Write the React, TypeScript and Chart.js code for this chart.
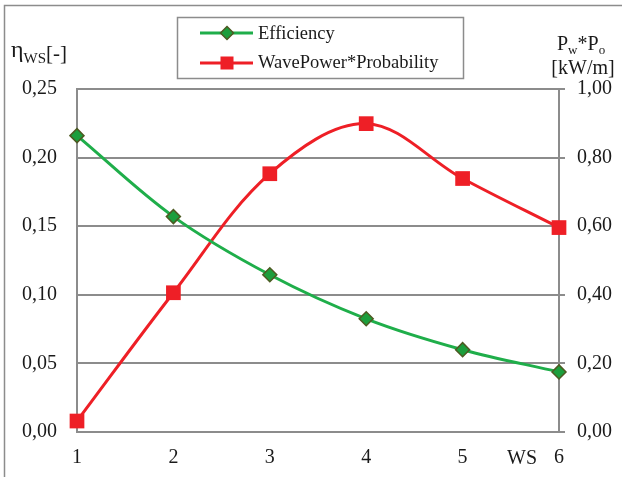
import React, { useEffect, useRef } from "react";
import { Chart, registerables } from "chart.js";

Chart.register(...registerables);

const wsValues = [1, 2, 3, 4, 5, 6];
const efficiency = [0.216, 0.157, 0.1146, 0.0825, 0.060, 0.0438];
const wavePowerProb = [0.032, 0.406, 0.753, 0.899, 0.739, 0.596];
const leftTicksMax = 0.25;
const rightTicksMax = 1.0;
const seriesNames = ["Efficiency", "WavePower*Probability"];

const GREEN = "#1fae4a";
const GREEN_FILL = "#1c9e3c";
const GREEN_EDGE = "#4d5a22";
const RED = "#ee1f26";
const GREY = "#8c8c8c";
const TEXT = "#1a1a1a";
const FONT = "'Liberation Serif', 'Times New Roman', serif";

const decorPlugin = {
  id: "decor",
  beforeDraw(chart: any) {
    const ctx = chart.ctx;
    ctx.save();
    ctx.fillStyle = "#ffffff";
    ctx.fillRect(0, 0, chart.width, chart.height);
    ctx.strokeStyle = GREY;
    ctx.lineWidth = 1.5;
    ctx.beginPath();
    ctx.moveTo(4.5, chart.height + 10);
    ctx.lineTo(4.5, 5.5);
    ctx.lineTo(chart.width + 10, 5.5);
    ctx.stroke();
    ctx.restore();
  },
  afterDraw(chart: any) {
    const ctx = chart.ctx;
    ctx.save();
    ctx.fillStyle = TEXT;
    ctx.textBaseline = "alphabetic";
    ctx.textAlign = "left";
    // left axis title: η_WS[-]
    ctx.font = `24px ${FONT}`;
    ctx.fillText("η", 11, 57);
    let w = ctx.measureText("η").width;
    ctx.font = `15px ${FONT}`;
    ctx.fillText("WS", 11 + w, 63);
    const w2 = ctx.measureText("WS").width;
    ctx.font = `21px ${FONT}`;
    ctx.fillText("[-]", 11 + w + w2, 60);

    // right axis title: P_w*P_o [kW/m]
    let x = 557;
    ctx.font = `20px ${FONT}`;
    ctx.fillText("P", x, 50);
    x += ctx.measureText("P").width;
    ctx.font = `13px ${FONT}`;
    ctx.fillText("w", x, 54);
    x += ctx.measureText("w").width;
    ctx.font = `20px ${FONT}`;
    ctx.fillText("*P", x, 50);
    x += ctx.measureText("*P").width;
    ctx.font = `13px ${FONT}`;
    ctx.fillText("o", x, 54);
    ctx.font = `20px ${FONT}`;
    ctx.textAlign = "center";
    ctx.fillText("[kW/m]", 583, 74);

    // x axis title WS
    ctx.fillText("WS", 522, 464);

    // legend
    ctx.textAlign = "left";
    ctx.strokeStyle = GREY;
    ctx.lineWidth = 1.5;
    ctx.strokeRect(177.5, 17.5, 286, 61);
    ctx.lineWidth = 3;
    ctx.strokeStyle = GREEN;
    ctx.beginPath();
    ctx.moveTo(200, 33);
    ctx.lineTo(253, 33);
    ctx.stroke();
    ctx.fillStyle = GREEN_FILL;
    ctx.strokeStyle = GREEN_EDGE;
    ctx.lineWidth = 1.5;
    ctx.beginPath();
    ctx.moveTo(227, 26.5);
    ctx.lineTo(233.5, 33);
    ctx.lineTo(227, 39.5);
    ctx.lineTo(220.5, 33);
    ctx.closePath();
    ctx.fill();
    ctx.stroke();
    ctx.strokeStyle = RED;
    ctx.lineWidth = 3;
    ctx.beginPath();
    ctx.moveTo(200, 63);
    ctx.lineTo(253, 63);
    ctx.stroke();
    ctx.fillStyle = RED;
    ctx.fillRect(220.5, 56.5, 13, 13);
    ctx.fillStyle = TEXT;
    ctx.font = `18.5px ${FONT}`;
    ctx.fillText(seriesNames[0], 258, 39);
    ctx.fillText(seriesNames[1], 258, 68);
    ctx.restore();
  },
};

function fmt(v: number) {
  return v.toFixed(2).replace(".", ",");
}

export default function App() {
  const ref = useRef<HTMLCanvasElement | null>(null);
  useEffect(() => {
    if (!ref.current) return;
    const chart = new Chart(ref.current, {
      type: "line",
      data: {
        datasets: [
          {
            label: seriesNames[0],
            data: wsValues.map((x, i) => ({ x, y: efficiency[i] })),
            yAxisID: "y",
            borderColor: GREEN,
            borderWidth: 3,
            tension: 0.35,
            clip: false,
            pointStyle: "rectRot",
            pointRadius: 7,
            pointBackgroundColor: GREEN_FILL,
            pointBorderColor: GREEN_EDGE,
            pointBorderWidth: 1.5,
          },
          {
            label: seriesNames[1],
            data: wsValues.map((x, i) => ({ x, y: wavePowerProb[i] })),
            yAxisID: "y1",
            borderColor: RED,
            borderWidth: 3,
            tension: 0.35,
            clip: false,
            pointStyle: "rect",
            pointRadius: 10.4,
            pointBackgroundColor: RED,
            pointBorderColor: RED,
            pointBorderWidth: 0,
          },
        ],
      },
      options: {
        animation: false,
        responsive: false,
        layout: { padding: { top: 89, left: 0, right: 0, bottom: 0 } },
        plugins: { legend: { display: false }, tooltip: { enabled: false } },
        scales: {
          x: {
            type: "linear",
            min: 1,
            max: 6,
            afterFit: (s: any) => {
              s.height = 45;
            },
            ticks: {
              stepSize: 1,
              color: TEXT,
              font: { family: FONT, size: 20 },
              padding: 14,
            },
            grid: { display: false, drawTicks: false },
            border: { display: true, color: GREY, width: 2 },
          },
          y: {
            position: "left",
            min: 0,
            max: leftTicksMax,
            afterFit: (s: any) => {
              s.width = 77;
            },
            ticks: {
              stepSize: 0.05,
              callback: (v: any) => fmt(Number(v)),
              color: TEXT,
              font: { family: FONT, size: 20 },
              padding: 20,
            },
            grid: { color: GREY, lineWidth: 2, drawTicks: false },
            border: { display: true, color: GREY, width: 2 },
          },
          y1: {
            position: "right",
            min: 0,
            max: rightTicksMax,
            afterFit: (s: any) => {
              s.width = 63;
            },
            ticks: {
              stepSize: 0.2,
              callback: (v: any) => fmt(Number(v)),
              color: TEXT,
              font: { family: FONT, size: 20 },
              padding: 12,
            },
            grid: {
              drawOnChartArea: false,
              drawTicks: true,
              tickLength: 6,
              color: GREY,
              lineWidth: 2,
            },
            border: { display: true, color: GREY, width: 2 },
          },
        },
      },
      plugins: [decorPlugin],
    });
    return () => chart.destroy();
  }, []);
  return (
    <div style={{ position: "fixed", left: 0, top: 0, width: 622, height: 477, background: "#fff" }}>
      <canvas ref={ref} width={622} height={477} style={{ display: "block" }} />
    </div>
  );
}
